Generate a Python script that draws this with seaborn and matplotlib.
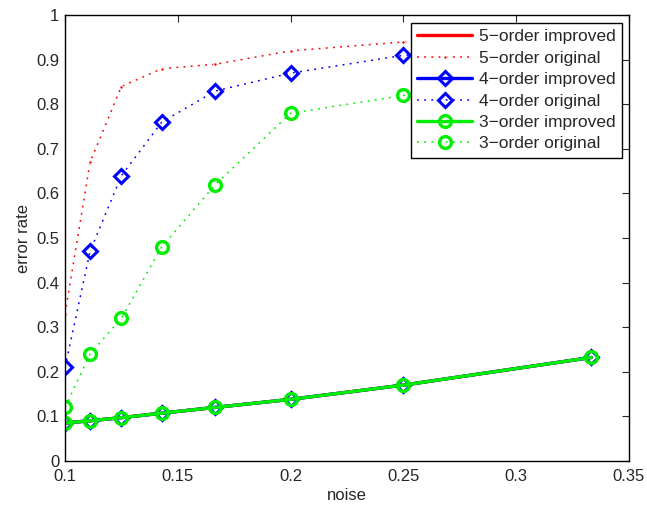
import matplotlib
matplotlib.use("Agg")
import matplotlib.pyplot as plt
import numpy as np
import pandas as pd
import seaborn as sns

noise = [1 / 10, 1 / 9, 1 / 8, 1 / 7, 1 / 6, 1 / 5, 1 / 4, 1 / 3]

improved_5 = [0.085, 0.09, 0.097, 0.107, 0.12, 0.138, 0.17, 0.232]
original_5 = [0.33, 0.67, 0.84, 0.88, 0.89, 0.92, 0.94, 0.95]
improved_4 = [0.085, 0.09, 0.097, 0.107, 0.12, 0.138, 0.17, 0.232]
original_4 = [0.21, 0.47, 0.64, 0.76, 0.83, 0.87, 0.91, 0.93]
improved_3 = [0.085, 0.09, 0.097, 0.107, 0.12, 0.138, 0.17, 0.232]
original_3 = [0.12, 0.24, 0.32, 0.48, 0.62, 0.78, 0.82, 0.85]

series = [
    ("5\u2212order improved", improved_5, "red", "-", None),
    ("5\u2212order original", original_5, "red", ":", "."),
    ("4\u2212order improved", improved_4, "blue", "-", "D"),
    ("4\u2212order original", original_4, "blue", ":", "D"),
    ("3\u2212order improved", improved_3, "#00ee00", "-", "o"),
    ("3\u2212order original", original_3, "#00ee00", ":", "o"),
]

sns.set_style("white")
plt.rcParams["font.family"] = ["Liberation Sans", "DejaVu Sans"]
plt.rcParams["font.size"] = 12

fig = plt.figure(figsize=(6.47, 5.07), dpi=100)
ax = fig.add_axes([0.1005, 0.091, 0.8715, 0.879])

dotted = (0, (1.2, 3.5))

for label, vals, color, ls, mk in series:
    df = pd.DataFrame({"noise": noise, "err": vals})
    kw = dict(color=color, label=label)
    if ls == "-":
        kw.update(linestyle="-", linewidth=2.4)
    else:
        kw.update(linestyle=dotted, linewidth=1.1)
    if mk == ".":
        kw.update(marker=".", markersize=5)
    elif mk == "D":
        kw.update(marker="D", markersize=7, markerfacecolor="none", markeredgewidth=2.2, markeredgecolor=color)
    elif mk == "o":
        kw.update(marker="o", markersize=8.5, markerfacecolor="none", markeredgewidth=2.4, markeredgecolor=color)
    sns.lineplot(data=df, x="noise", y="err", ax=ax, **kw)

ax.set_xlim(0.1, 0.35)
ax.set_ylim(0, 1)
ax.set_xticks(np.arange(0.1, 0.351, 0.05))
ax.set_xticklabels(["0.1", "0.15", "0.2", "0.25", "0.3", "0.35"])
ax.set_yticks(np.arange(0, 1.01, 0.1))
ax.set_yticklabels(["0", "0.1", "0.2", "0.3", "0.4", "0.5", "0.6", "0.7", "0.8", "0.9", "1"])
ax.tick_params(direction="in", top=True, right=True, length=5, width=0.8, labelsize=12)
ax.tick_params(axis="x", pad=6)
ax.tick_params(axis="y", pad=4)
for s in ax.spines.values():
    s.set_color("black")
    s.set_linewidth(1.0)
ax.set_xlabel("noise", fontsize=12, labelpad=3)
ax.set_ylabel("error rate", fontsize=12, labelpad=4)

leg = ax.legend(loc="upper right", fancybox=False, framealpha=1, edgecolor="black",
                fontsize=12.5, handlelength=3.2, borderpad=0.35, labelspacing=0.36,
                handletextpad=0.4, bbox_to_anchor=(0.988, 0.982), borderaxespad=0)
leg.get_frame().set_linewidth(1.0)

fig.savefig("out.png", dpi=100)
